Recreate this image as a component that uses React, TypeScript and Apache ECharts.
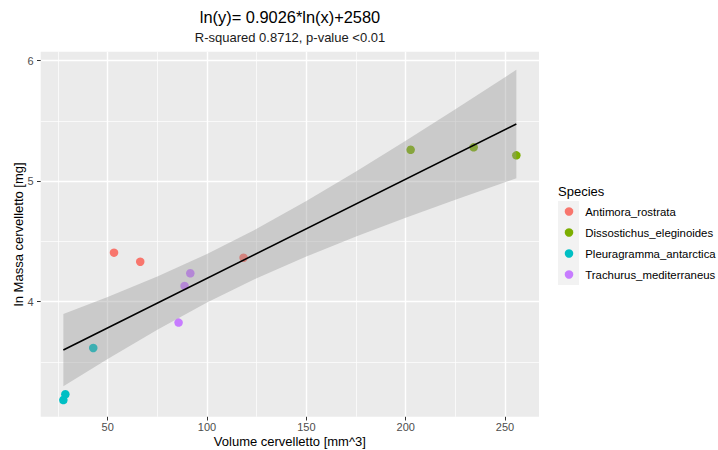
import React, { useEffect, useRef } from "react";
import * as echarts from "echarts";

const FONT = "'Liberation Sans', Arial, sans-serif";

const speciesNames = [
  "Antimora_rostrata",
  "Dissostichus_eleginoides",
  "Pleuragramma_antarctica",
  "Trachurus_mediterraneus",
];
const speciesColors = ["#F8766D", "#7CAE00", "#00BFC4", "#C77CFF"];

const antimoraX = [53.2, 66.4, 118.4];
const antimoraY = [4.407, 4.332, 4.365];
const dissostichusX = [202.5, 234.2, 255.7];
const dissostichusY = [5.261, 5.281, 5.215];
const pleuragrammaX = [27.7, 28.7, 42.75];
const pleuragrammaY = [3.184, 3.232, 3.616];
const trachurusX = [85.7, 88.7, 91.6];
const trachurusY = [3.827, 4.131, 4.236];

const fitX = [27.7, 255.7];
const fitY = [3.599, 5.475];

const bandX = [27.7, 50, 75, 100, 125, 150, 175, 200, 225, 255.7];
const bandUpper = [3.899, 4.039, 4.209, 4.396, 4.605, 4.835, 5.081, 5.337, 5.598, 5.925];
const bandLower = [3.299, 3.525, 3.767, 3.993, 4.195, 4.375, 4.541, 4.697, 4.846, 5.025];

const xMajorTicks = [50, 100, 150, 200, 250];
const xMinorTicks = [25, 75, 125, 175, 225];
const yMajorTicks = [4, 5, 6];
const yMinorTicks = [3.5, 4.5, 5.5];

const titleText = "ln(y)= 0.9026*ln(x)+2580";
const subtitleText = "R-squared 0.8712, p-value <0.01";
const xTitle = "Volume cervelletto [mm^3]";
const yTitle = "ln Massa cervelletto [mg]";
const legendTitle = "Species";

const X_MIN = 16.3;
const X_MAX = 267.1;
const Y_MIN = 3.045;
const Y_MAX = 6.075;

const speciesX = [antimoraX, dissostichusX, pleuragrammaX, trachurusX];
const speciesY = [antimoraY, dissostichusY, pleuragrammaY, trachurusY];

export default function App() {
  const ref = useRef<HTMLDivElement>(null);

  useEffect(() => {
    if (!ref.current) return;
    const chart = echarts.init(ref.current, undefined, { renderer: "svg" });

    const scatterSeries = speciesNames.map((name, i) => ({
      name,
      type: "scatter",
      xAxisIndex: 0,
      yAxisIndex: 0,
      z: 2,
      symbol: "circle",
      symbolSize: 8.5,
      itemStyle: { color: speciesColors[i], opacity: 1 },
      data: speciesX[i].map((x, j) => [x, speciesY[i][j]]),
    }));

    const option: any = {
      animation: false,
      backgroundColor: "#ffffff",
      textStyle: { fontFamily: FONT },
      grid: {
        left: 40.7,
        right: 179,
        top: 51.7,
        bottom: 33.2,
        show: true,
        backgroundColor: "#EBEBEB",
        borderWidth: 0,
        containLabel: false,
        outerBoundsMode: "none",
      },
      xAxis: [
        {
          type: "value",
          min: X_MIN,
          max: X_MAX,
          position: "bottom",
          name: xTitle,
          nameLocation: "middle",
          nameGap: 18.5,
          nameMoveOverlap: false,
          nameTextStyle: { fontSize: 13, color: "#000000", fontFamily: FONT },
          axisLine: { show: false },
          axisTick: { show: true, length: 3.7, lineStyle: { color: "#333333", width: 1 }, customValues: xMajorTicks },
          axisLabel: { customValues: xMajorTicks, fontSize: 11, color: "#4D4D4D", margin: 5, fontFamily: FONT },
          splitLine: { show: true, lineStyle: { color: "#ffffff", width: 1.4 } },
        },
        {
          type: "value",
          min: X_MIN,
          max: X_MAX,
          position: "bottom",
          axisLine: { show: false },
          axisTick: { show: false, customValues: xMinorTicks },
          axisLabel: { show: false, customValues: xMinorTicks },
          splitLine: { show: true, lineStyle: { color: "#ffffff", width: 0.7 } },
        },
      ],
      yAxis: [
        {
          type: "value",
          min: Y_MIN,
          max: Y_MAX,
          position: "left",
          name: yTitle,
          nameLocation: "middle",
          nameGap: 16,
          nameRotate: 90,
          nameMoveOverlap: false,
          nameTextStyle: { fontSize: 13, color: "#000000", fontFamily: FONT },
          axisLine: { show: false },
          axisTick: { show: true, length: 3.7, lineStyle: { color: "#333333", width: 1 }, customValues: yMajorTicks },
          axisLabel: { customValues: yMajorTicks, fontSize: 11, color: "#4D4D4D", margin: 7, fontFamily: FONT },
          splitLine: { show: true, lineStyle: { color: "#ffffff", width: 1.4 } },
        },
        {
          type: "value",
          min: Y_MIN,
          max: Y_MAX,
          position: "left",
          axisLine: { show: false },
          axisTick: { show: false, customValues: yMinorTicks },
          axisLabel: { show: false, customValues: yMinorTicks },
          splitLine: { show: true, lineStyle: { color: "#ffffff", width: 0.7 } },
        },
      ],
      legend: {
        data: speciesNames.map((n) => ({ name: n, icon: "circle" })),
        orient: "vertical",
        left: 564.75,
        top: 201,
        padding: 0,
        itemGap: 0,
        itemWidth: 8.5,
        itemHeight: 8.5,
        selectedMode: false,
        textStyle: {
          fontSize: 11.4,
          color: "#000000",
          fontFamily: FONT,
          lineHeight: 21,
          padding: [0, 0, 0, 7],
        },
      },
      graphic: [
        {
          type: "text",
          x: 290,
          y: 16.5,
          style: {
            text: titleText,
            fill: "#000000",
            font: `16.4px ${FONT}`,
            align: "center",
            verticalAlign: "middle",
          },
        },
        {
          type: "text",
          x: 290,
          y: 37,
          style: {
            text: subtitleText,
            fill: "#1a1a1a",
            font: `13px ${FONT}`,
            align: "center",
            verticalAlign: "middle",
          },
        },
        {
          type: "text",
          x: 558,
          y: 191,
          style: {
            text: legendTitle,
            fill: "#000000",
            font: `13px ${FONT}`,
            align: "left",
            verticalAlign: "middle",
          },
        },
        {
          type: "rect",
          z: -1,
          shape: { x: 558, y: 201, width: 21, height: 84 },
          style: { fill: "#F2F2F2" },
        },
      ],
      series: [
        ...scatterSeries,
        {
          name: "band",
          type: "custom",
          xAxisIndex: 0,
          yAxisIndex: 0,
          z: 3,
          silent: true,
          data: [[bandX[0], bandUpper[0]]],
          renderItem: (params: any, api: any) => {
            const upperPts = bandX.map((x, i) => api.coord([x, bandUpper[i]]));
            const lowerPts = bandX
              .map((x, i) => api.coord([x, bandLower[i]]))
              .reverse();
            return {
              type: "polygon",
              shape: { points: upperPts.concat(lowerPts) },
              style: { fill: "rgba(153,153,153,0.4)" },
            };
          },
        },
        {
          name: "fit",
          type: "line",
          xAxisIndex: 0,
          yAxisIndex: 0,
          z: 4,
          showSymbol: false,
          symbol: "none",
          silent: true,
          lineStyle: { color: "#000000", width: 1.6 },
          data: fitX.map((x, i) => [x, fitY[i]]),
        },
      ],
    };

    chart.setOption(option);
    return () => chart.dispose();
  }, []);

  return (
    <div
      ref={ref}
      style={{ position: "fixed", left: 0, top: 0, width: 718, height: 450 }}
    />
  );
}
